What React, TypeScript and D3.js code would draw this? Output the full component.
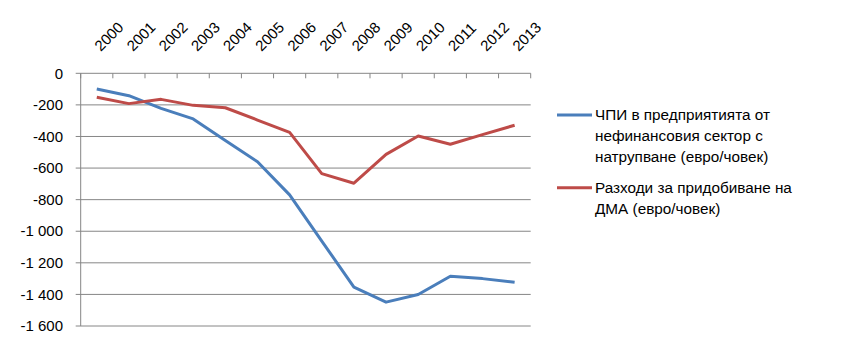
import React, { useEffect, useRef } from "react";
import * as d3 from "d3";

const years = ["2000", "2001", "2002", "2003", "2004", "2005", "2006", "2007", "2008", "2009", "2010", "2011", "2012", "2013"];
const chpiValues = [-100, -142, -222, -289, -425, -560, -770, -1062, -1354, -1449, -1401, -1285, -1300, -1323];
const razhodiValues = [-152, -192, -165, -203, -218, -296, -374, -635, -696, -513, -397, -449, -388, -329];
const yTicks = [0, -200, -400, -600, -800, -1000, -1200, -1400, -1600];

const seriesList = [
  { name: ["ЧПИ в предприятията от", "нефинансовия сектор с", "натрупване (евро/човек)"], values: chpiValues, color: "#4A7EBB" },
  { name: ["Разходи за придобиване на", "ДМА (евро/човек)"], values: razhodiValues, color: "#BE4B48" },
];

const W = 842;
const H = 358;
const FONT = "'Liberation Sans', Arial, sans-serif";

export default function App() {
  const ref = useRef<SVGSVGElement>(null);

  useEffect(() => {
    const svg = d3.select(ref.current);
    svg.selectAll("*").remove();

    const left = 80.7, right = 530.7, top = 73.3, bottom = 326;

    const x = d3.scaleBand().domain(years).range([left, right]);
    const y = d3.scaleLinear().domain([-1600, 0]).range([bottom, top]);

    const fmt = d3.formatLocale({ decimal: ",", thousands: " ", grouping: [3], currency: ["", ""], minus: "-" }).format(",d");

    // gridlines
    svg
      .append("g")
      .selectAll("line")
      .data(yTicks)
      .enter()
      .append("line")
      .attr("x1", left - 5)
      .attr("x2", right)
      .attr("y1", (d) => y(d))
      .attr("y2", (d) => y(d))
      .style("stroke", "#868686")
      .style("stroke-width", 1);

    // left axis line
    svg
      .append("line")
      .attr("x1", left)
      .attr("x2", left)
      .attr("y1", top)
      .attr("y2", bottom)
      .style("stroke", "#868686");

    // top axis category ticks
    const edges = years.map((d) => x(d)!).concat([right]);
    svg
      .append("g")
      .selectAll("line")
      .data(edges)
      .enter()
      .append("line")
      .attr("x1", (d) => d)
      .attr("x2", (d) => d)
      .attr("y1", top)
      .attr("y2", top + 5)
      .style("stroke", "#868686");

    // y labels
    svg
      .append("g")
      .selectAll("text")
      .data(yTicks)
      .enter()
      .append("text")
      .text((d) => fmt(d))
      .attr("x", 63)
      .attr("y", (d) => y(d))
      .attr("dy", "0.35em")
      .attr("text-anchor", "end")
      .style("font-family", FONT)
      .style("font-size", "15px")
      .style("fill", "#000");

    // year labels, rotated
    svg
      .append("g")
      .selectAll("text")
      .data(years)
      .enter()
      .append("text")
      .text((d) => d)
      .attr("transform", (d) => "translate(" + (x(d)! + x.bandwidth() / 2 + 4) + ",52) rotate(-45)")
      .style("font-family", FONT)
      .style("font-size", "15px")
      .style("fill", "#000");

    // lines
    const line = d3
      .line<number>()
      .x((d, i) => x(years[i])! + x.bandwidth() / 2)
      .y((d) => y(d));

    seriesList.forEach((s) => {
      svg
        .append("path")
        .attr("d", line(s.values))
        .style("fill", "none")
        .style("stroke", s.color)
        .style("stroke-width", 3)
        .style("stroke-linejoin", "round");
    });

    // legend
    const legendTops = [115, 187.7];
    seriesList.forEach((s, i) => {
      const ly = legendTops[i];
      svg
        .append("line")
        .attr("x1", 557)
        .attr("x2", 592)
        .attr("y1", ly)
        .attr("y2", ly)
        .style("stroke", s.color)
        .style("stroke-width", 3);
      s.name.forEach((t, j) => {
        svg
          .append("text")
          .text(t)
          .attr("x", 595)
          .attr("y", ly + j * 21)
          .attr("dy", "0.35em")
          .style("font-family", FONT)
          .style("font-size", "15.3px")
          .style("fill", "#000");
      });
    });
  }, []);

  return <svg ref={ref} width={W} height={H} style={{ position: "absolute", left: 0, top: 0, background: "#fff" }} />;
}
